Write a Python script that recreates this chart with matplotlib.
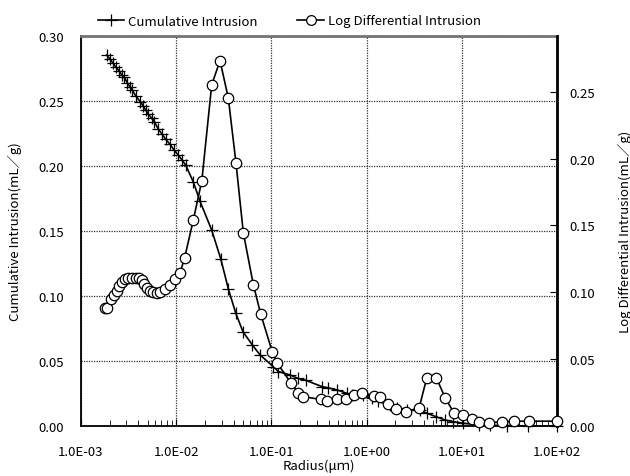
import matplotlib
matplotlib.use("Agg")
import matplotlib.pyplot as plt
from matplotlib.ticker import FuncFormatter, LogLocator, NullFormatter, MultipleLocator
from matplotlib.lines import Line2D

plt.rcParams['font.family'] = ['Noto Sans CJK JP', 'DejaVu Sans']

# Cumulative Intrusion (left axis)
cum_radius = [0.00186, 0.00202, 0.00218, 0.00231, 0.00251, 0.00268, 0.00285, 0.00306,
              0.00327, 0.00346, 0.00376, 0.00417, 0.00451, 0.00478, 0.00510, 0.00553,
              0.00589, 0.00649, 0.00705, 0.00776, 0.00861, 0.00955, 0.01052, 0.01159,
              0.01259, 0.01513, 0.01778, 0.02360, 0.02940, 0.03540, 0.04226, 0.05030,
              0.06330, 0.07590, 0.1052, 0.1181, 0.1566, 0.1901, 0.2307, 0.3400, 0.3963,
              0.4856, 0.6183, 0.6976, 0.9230, 1.131, 1.318, 1.763, 2.071, 2.637, 3.638,
              4.307, 5.355, 6.666, 8.15, 10.38, 15.0, 20.0, 30.0, 50.0, 100.0]
cum_values = [0.2853, 0.2822, 0.2789, 0.2763, 0.2732, 0.2701, 0.2681, 0.2642,
              0.2608, 0.2583, 0.2539, 0.2496, 0.2462, 0.2429, 0.2398, 0.2367,
              0.2342, 0.2283, 0.2249, 0.2205, 0.2167, 0.2120, 0.2084, 0.2043,
              0.2007, 0.1877, 0.1729, 0.1507, 0.1285, 0.1051, 0.0867, 0.0725,
              0.0622, 0.0547, 0.0455, 0.0419, 0.0393, 0.0366, 0.0351, 0.0303, 0.0293,
              0.0278, 0.0252, 0.0239, 0.0235, 0.0214, 0.0189, 0.0162, 0.0136, 0.0123, 0.0120,
              0.0098, 0.0072, 0.0046, 0.0033, 0.0021, 0.0009, 0.0005, 0.0003, 0.0001, 0.0]

# Log Differential Intrusion (right axis)
ldi_radius = [0.00180, 0.00188, 0.00209, 0.00221, 0.00237, 0.00253, 0.00268, 0.00290,
              0.00314, 0.00346, 0.00376, 0.00407, 0.00434, 0.00462, 0.00490, 0.00531,
              0.00575, 0.00624, 0.00676, 0.00763, 0.00861, 0.00971, 0.01096, 0.01228,
              0.01512, 0.01858, 0.02360, 0.02885, 0.03526, 0.04249, 0.05069, 0.06455,
              0.07718, 0.1022, 0.1153, 0.1595, 0.1917, 0.2132, 0.3280, 0.3865, 0.4852,
              0.6033, 0.7375, 0.9012, 1.187, 1.383, 1.678, 2.051, 2.612, 3.568, 4.279,
              5.397, 6.709, 8.282, 10.22, 12.71, 15.16, 19.31, 26.25, 35.09, 51.17, 100.0]
ldi_values = [0.0883, 0.0885, 0.0950, 0.0979, 0.1009, 0.1047, 0.1077, 0.1099,
              0.1108, 0.1108, 0.1108, 0.1108, 0.1095, 0.1062, 0.1032, 0.1008,
              0.1000, 0.0996, 0.1000, 0.1024, 0.1058, 0.1101, 0.1143, 0.1260,
              0.1540, 0.1834, 0.2551, 0.2733, 0.2453, 0.1966, 0.1446, 0.1058,
              0.0838, 0.0553, 0.0470, 0.0325, 0.0250, 0.0220, 0.0199, 0.0184, 0.0200,
              0.0200, 0.0229, 0.0250, 0.0225, 0.0214, 0.0165, 0.0128, 0.0107, 0.0137, 0.0358,
              0.0362, 0.0208, 0.0098, 0.0083, 0.0055, 0.0032, 0.0026, 0.0030, 0.0036, 0.0036, 0.0036]

x_ticks = [1e-3, 1e-2, 1e-1, 1e0, 1e1, 1e2]

fig = plt.figure(figsize=(6.3, 4.77), dpi=100)
ax = fig.add_axes([81/630, 1-427/477, (557-81)/630, (427-37)/477])
ax2 = ax.twinx()

ax.set_xscale('log')
ax.set_xlim(1e-3, 1e2)
ax.set_ylim(0, 0.30)
ax2.set_ylim(0, 0.2917)

ax.plot(cum_radius, cum_values, color='black', lw=1.2, marker='+', ms=8,
        mew=0.9, zorder=3, clip_on=False)
ax2.plot(ldi_radius, ldi_values, color='black', lw=1.2, marker='o', ms=7.5,
         mfc='white', mec='black', mew=0.9, zorder=3, clip_on=False)

ax.set_xticks(x_ticks)
ax.xaxis.set_major_formatter(FuncFormatter(lambda v, p: f"{v:.1E}"))
ax.xaxis.set_minor_locator(LogLocator(base=10, subs=range(2, 10), numticks=20))
ax.xaxis.set_minor_formatter(NullFormatter())
ax.yaxis.set_major_locator(MultipleLocator(0.05))
ax.yaxis.set_major_formatter(FuncFormatter(lambda v, p: f"{v:.2f}"))
ax2.yaxis.set_major_locator(MultipleLocator(0.05))
ax2.yaxis.set_major_formatter(FuncFormatter(lambda v, p: f"{v:.2f}"))

ax.grid(True, which='major', color='0.2', linestyle=(0, (1, 1)), lw=0.9)
ax.set_axisbelow(True)

ax.tick_params(axis='x', which='major', direction='in', length=5, labelsize=9.5, pad=14)
ax.tick_params(axis='x', which='minor', direction='in', length=4)
ax.tick_params(axis='y', which='major', direction='in', length=0, labelsize=9.5, pad=12)
ax2.tick_params(axis='y', which='major', direction='in', length=5, labelsize=9.5, pad=9)

for s in ['left', 'bottom']:
    ax.spines[s].set_linewidth(1.3)
ax.spines['top'].set_color('0.45')
ax.spines['top'].set_linewidth(2)
ax2.spines['top'].set_visible(False)
ax2.spines['right'].set_linewidth(2)
ax2.spines['left'].set_visible(False)
ax2.spines['bottom'].set_visible(False)
ax.spines['right'].set_visible(False)

ax.set_xlabel('Radius(\u03bc\uff4d)', fontsize=9.5, labelpad=0)
ax.set_ylabel('Cumulative Intrusion(mL\uff0fg)', fontsize=9.5, labelpad=12)
ax2.set_ylabel('Log Differential Intrusion(mL\uff0fg)', fontsize=9.5, labelpad=16)

handles = [Line2D([], [], color='black', lw=1.2, marker='+', ms=8, mew=0.9),
           Line2D([], [], color='black', lw=1.2, marker='o', ms=7, mfc='white', mew=0.9)]
fig.legend(handles, ['Cumulative Intrusion', 'Log Differential Intrusion'],
           loc='center left', bbox_to_anchor=(98/630, 1-22/477), ncol=2,
           frameon=False, fontsize=9.5, handlelength=2.0, handletextpad=0.3,
           columnspacing=3.0, borderpad=0, borderaxespad=0)

fig.savefig('out.png', dpi=100)
